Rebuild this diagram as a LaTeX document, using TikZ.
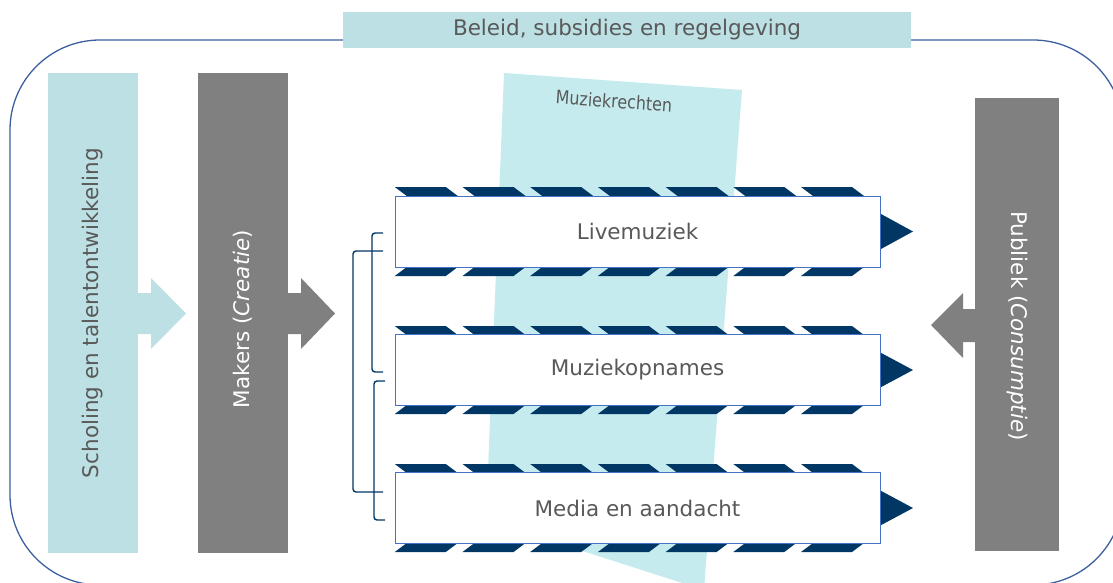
\documentclass[tikz,border=0pt]{standalone}
\usepackage{fontspec}
\setmainfont{DejaVu Sans}
\usepackage{tikz}
\usetikzlibrary{positioning}
\definecolor{Teal}{HTML}{BCE0E3}
\definecolor{LightTeal}{HTML}{C5EBEE}
\definecolor{Stone}{HTML}{808080}
\definecolor{Navy}{HTML}{003764}
\definecolor{BoxBlue}{HTML}{4472C4}
\definecolor{FrameBlue}{HTML}{3C5FA0}
\definecolor{TextGray}{HTML}{595959}
\tikzset{
	every node/.append style={
		inner sep=0pt,
		outer sep=0pt,
		font={\fontsize{21.5}{26}\selectfont},
	},
	banner/.append style={
		fill=Teal,
		text=TextGray,
		minimum width=568pt,
		minimum height=36pt,
	},
	colbox/.append style={
		minimum height=90pt,
	},
	procbox/.append style={
		draw=BoxBlue,
		line width=0.8pt,
		fill=white,
		text=TextGray,
		minimum width=485pt,
		minimum height=71pt,
	},
	bracket/.append style={
		draw=Navy,
		line width=1.4pt,
		rounded corners=3pt,
	},
	frame/.append style={
		draw=FrameBlue,
		line width=1.3pt,
		rounded corners=90pt,
	}
}

\begin{document}
\begin{tikzpicture}[x=1pt,y=-1pt]
	\useasboundingbox (0,0) rectangle (1113,583);
	\clip (0,0) rectangle (1113,583);

	\draw[frame] (10,40) rectangle (1123,585);
	\node[banner](beleid) at (627,30) {Beleid, subsidies en regelgeving};

	% kolommen
	\node[colbox,fill=Teal,text=TextGray,rotate=90,minimum width=480pt](scholing) at (93,313) {Scholing en talentontwikkeling};
	\node[colbox,fill=Stone,rotate=90,minimum width=480pt](makers) at (243,313) {};
	\node[text=white,rotate=90](makerstext) at (243,319) {Makers (\textit{Creatie})};
	\node[colbox,fill=Stone,text=white,rotate=-90,minimum width=453pt,minimum height=84pt](publiek) at (1017,324.5) {};
	\node[text=white,rotate=-90](publiektext) at (1017,326) {Publiek (\textit{Consumptie})};

	% blokpijlen
	\fill[Teal] (138,293) -- (151,293) -- (151,278) -- (186,313.5) -- (151,349) -- (151,334) -- (138,334) -- cycle;
	\fill[Stone] (288,293) -- (301,293) -- (301,278) -- (335,313.5) -- (301,349) -- (301,334) -- (288,334) -- cycle;
	\fill[Stone] (975,309) -- (963,309) -- (963,293) -- (931,325) -- (963,358) -- (963,342) -- (975,342) -- cycle;

	% muziekrechten
	\fill[LightTeal] (504,73) -- (742,90) -- (704,590) -- (486,520) -- cycle;
	\node[text=TextGray,rotate=-4,xscale=0.86,font={\fontsize{18.5}{22}\selectfont}](rechten) at (614,101) {Muziekrechten};

	% gestreepte pijlen
	\foreach \t/\b in {196/267,335/405,473/543}{
		\foreach \i in {0,...,6}{
			\pgfmathsetmacro\xa{394.8+67.7*\i}
			\fill[Navy] (\xa,\t-9) -- ++(51,0) -- ++(12,9) -- ++(-51,0) -- cycle;
			\fill[Navy] (\xa,\b+9) -- ++(51,0) -- ++(12,-9) -- ++(-51,0) -- cycle;
		}
		\fill[Navy] (870,\t+12) -- (913,{(\t+\b)/2}) -- (870,\b-12) -- cycle;
	}

	\node[procbox](live) at (637.5,231.5) {Livemuziek};
	\node[procbox](opnames) at (637.5,370) {Muziekopnames};
	\node[procbox](media) at (637.5,508) {Media en aandacht};

	% accolades
	\draw[bracket] (383,233) -- (372,233) -- (372,372) -- (383,372);
	\draw[bracket] (385,381) -- (374,381) -- (374,520) -- (385,520);
	\draw[bracket] (383,251) -- (353,251) -- (353,492) -- (383,492);
\end{tikzpicture}
\end{document}
